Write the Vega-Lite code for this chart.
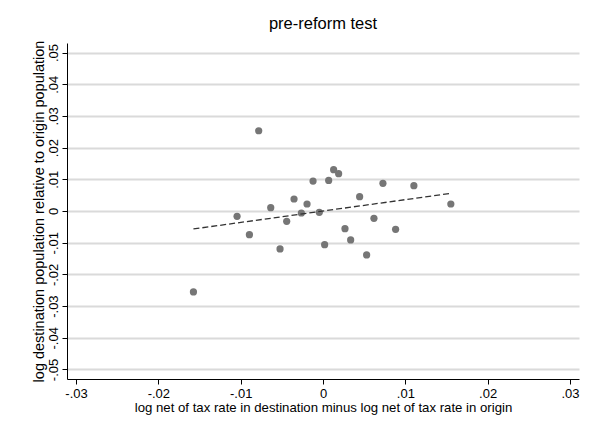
{
  "$schema": "https://vega.github.io/schema/vega-lite/v6.json",
  "width": 512,
  "height": 336,
  "autosize": {"type": "none"},
  "padding": {"left": 67, "top": 43, "right": 19, "bottom": 58},
  "background": "white",
  "config": {
    "font": "Liberation Sans",
    "view": {"stroke": null},
    "axis": {"labelOverlap": false, "labelFlush": false}
  },
  "title": {
    "text": "pre-reform test",
    "fontSize": 16.5,
    "fontWeight": "normal",
    "font": "Liberation Sans",
    "color": "black",
    "anchor": "middle",
    "offset": 8
  },
  "datasets": {
    "pts": [
      {"x": -0.00781, "y": 0.02532},
      {"x": 0.00129, "y": 0.01303},
      {"x": 0.0019, "y": 0.01176},
      {"x": -0.00121, "y": 0.00945},
      {"x": 0.00069, "y": 0.00966},
      {"x": 0.00728, "y": 0.00872},
      {"x": 0.01104, "y": 0.00798},
      {"x": 0.00445, "y": 0.00452},
      {"x": -0.00352, "y": 0.00378},
      {"x": -0.00194, "y": 0.00221},
      {"x": 0.01553, "y": 0.00221},
      {"x": -0.00635, "y": 0.00105},
      {"x": -0.00263, "y": -0.00063},
      {"x": -0.00045, "y": -0.00042},
      {"x": -0.01044, "y": -0.00168},
      {"x": 0.00619, "y": -0.00231},
      {"x": -0.00441, "y": -0.00326},
      {"x": 0.00267, "y": -0.00557},
      {"x": 0.00882, "y": -0.00578},
      {"x": -0.00894, "y": -0.00746},
      {"x": 0.00336, "y": -0.00914},
      {"x": 0.0002, "y": -0.01061},
      {"x": -0.00522, "y": -0.01197},
      {"x": 0.0053, "y": -0.01387},
      {"x": -0.01574, "y": -0.02553}
    ],
    "fit": [
      {"x": -0.01574, "y": -0.00567},
      {"x": 0.01553, "y": 0.00557}
    ]
  },
  "encoding": {
    "x": {
      "field": "x", "type": "quantitative",
      "scale": {"domain": [-0.0311, 0.0311], "nice": false, "zero": false},
      "axis": {
        "values": [-0.03, -0.02, -0.01, 0, 0.01, 0.02, 0.03],
        "labelExpr": "datum.value == 0 ? '0' : (datum.value < 0 ? '-' : '') + replace(format(abs(datum.value), '.2f'), '0.', '.')",
        "title": "log net of tax rate in destination minus log net of tax rate in origin",
        "titleFontSize": 13.2, "titleFontWeight": "normal", "titleColor": "black", "titlePadding": 1,
        "labelFontSize": 13, "labelColor": "black", "labelPadding": 3,
        "tickColor": "black", "tickSize": 5,
        "domainColor": "black", "domainWidth": 1,
        "grid": false
      }
    },
    "y": {
      "field": "y", "type": "quantitative",
      "scale": {"domain": [-0.053, 0.053], "nice": false, "zero": false},
      "axis": {
        "values": [-0.05, -0.04, -0.03, -0.02, -0.01, 0, 0.01, 0.02, 0.03, 0.04, 0.05],
        "labelExpr": "datum.value == 0 ? '0' : (datum.value < 0 ? '-' : '') + replace(format(abs(datum.value), '.2f'), '0.', '.')",
        "labelAngle": -90,
        "labelAlign": "center",
        "labelBaseline": "bottom",
        "title": "log destination population relative to origin population",
        "titleFontSize": 14.5, "titleFontWeight": "normal", "titleColor": "black", "titlePadding": 1,
        "labelFontSize": 13, "labelColor": "black", "labelPadding": 2,
        "tickColor": "black", "tickSize": 5,
        "domainColor": "black", "domainWidth": 1,
        "grid": true, "gridColor": "#dadada", "gridWidth": 2, "gridOpacity": 1
      }
    }
  },
  "layer": [
    {
      "data": {"name": "pts"},
      "mark": {"type": "point", "filled": true, "size": 52, "color": "#767676", "opacity": 1, "strokeWidth": 0}
    },
    {
      "data": {"name": "fit"},
      "mark": {"type": "line", "color": "#333333", "strokeWidth": 1.3, "strokeDash": [6, 3]}
    }
  ]
}
